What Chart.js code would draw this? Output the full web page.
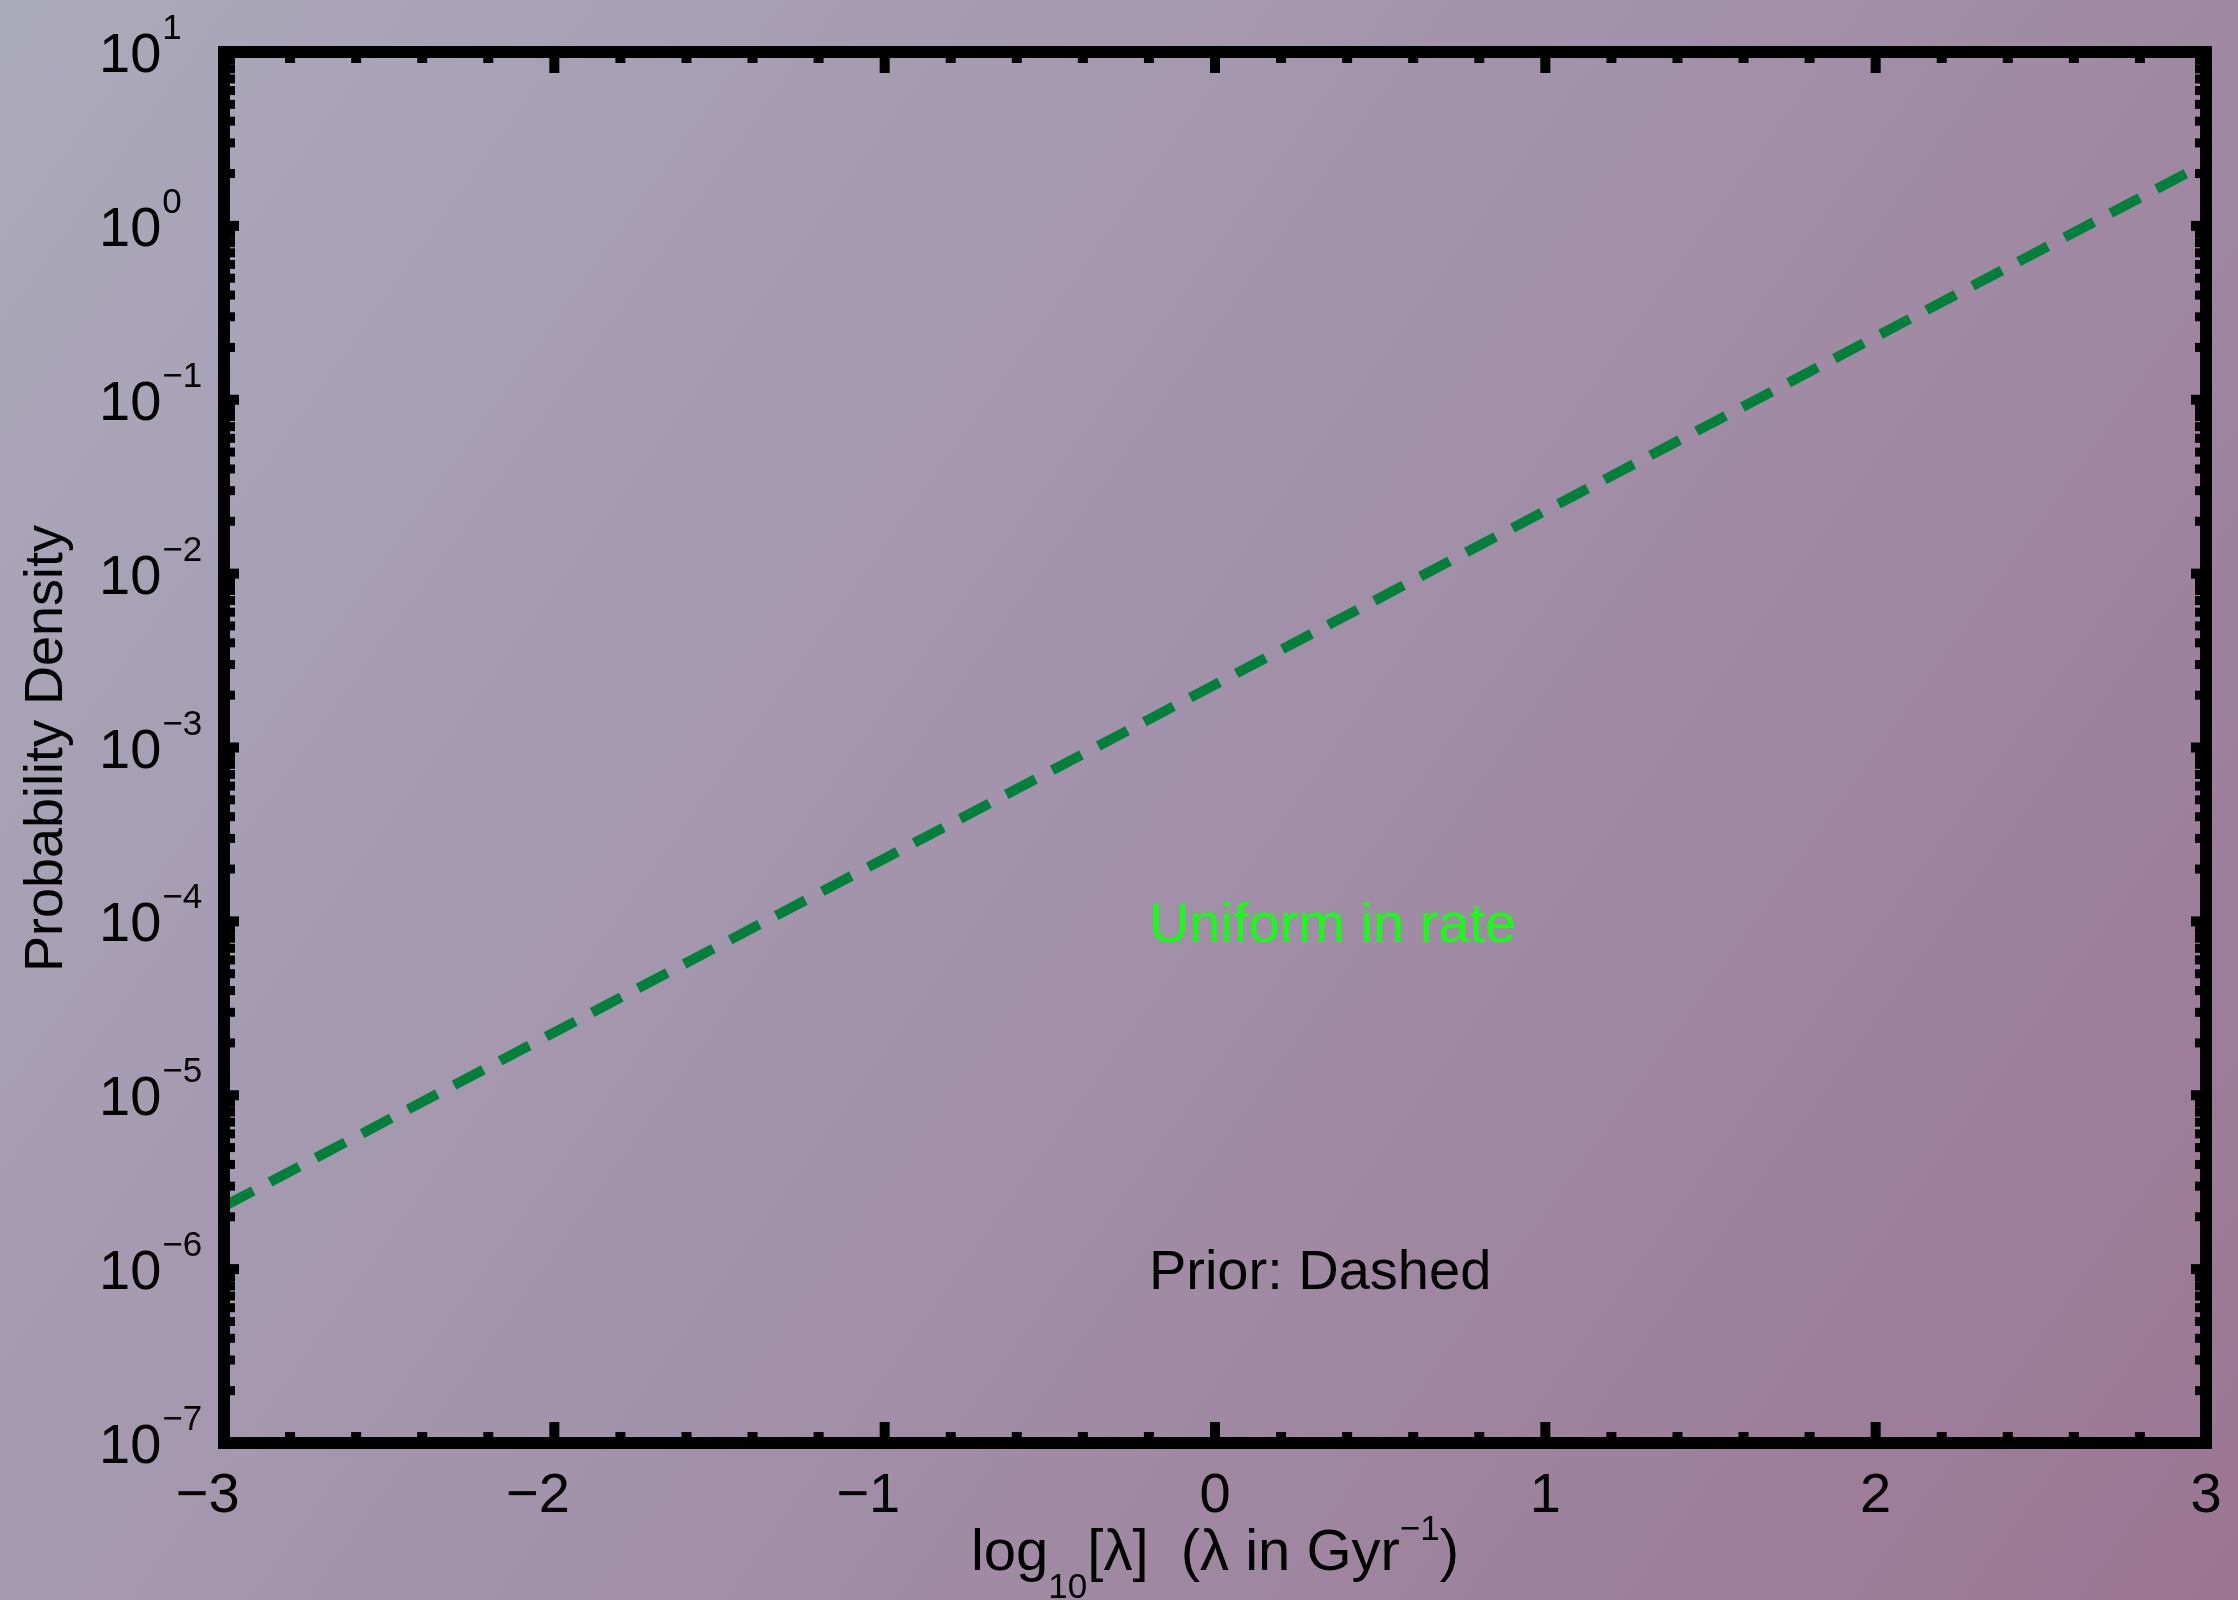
<!DOCTYPE html>
<html>
<head>
<meta charset="utf-8">
<script src="https://cdn.jsdelivr.net/npm/chart.js@4/dist/chart.umd.min.js"></script>
<style>
  html, body { margin: 0; padding: 0; overflow: hidden; background: #a292aa; }
  canvas { display: block; }
</style>
</head>
<body>
<canvas id="chart" width="2238" height="1600"></canvas>
<script>
// Prior density of log10(lambda) for a prior uniform in the rate lambda
const logLambda = [-3, -2, -1, 0, 1, 2, 3];
const priorDensity = [2.3e-6, 2.3e-5, 2.3e-4, 2.3e-3, 2.3e-2, 2.3e-1, 2.3];

// Axis ticks
const xTickValues = [-3, -2, -1, 0, 1, 2, 3];
const xTickLabels = ['−3', '−2', '−1', '0', '1', '2', '3'];
const yExponents = [1, 0, -1, -2, -3, -4, -5, -6, -7];
const yExponentLabels = ['1', '0', '−1', '−2', '−3', '−4', '−5', '−6', '−7'];

// Text
const yTitle = 'Probability Density';
const xTitleParts = [
  { text: 'log', kind: 'normal' },
  { text: '10', kind: 'sub' },
  { text: '[λ]  (λ in Gyr', kind: 'normal' },
  { text: '−1', kind: 'sup' },
  { text: ')', kind: 'normal' }
];
const noteTexts = ['Uniform in rate', 'Prior: Dashed'];

const FONT = '"Liberation Sans", Arial, Helvetica, sans-serif';

const framePlugin = {
  id: 'framePlugin',
  beforeDraw(chart) {
    const { ctx, width, height } = chart;
    const g = ctx.createLinearGradient(0, 0, width, height);
    g.addColorStop(0, '#abaabb');
    g.addColorStop(0.5, '#a291aa');
    g.addColorStop(1, '#9b7693');
    ctx.save();
    ctx.fillStyle = g;
    ctx.fillRect(0, 0, width, height);
    ctx.restore();
  },
  afterDraw(chart) {
    const { ctx, chartArea: a, scales: { x, y } } = chart;
    ctx.save();
    ctx.fillStyle = '#000';

    // box around the plot
    const fw = 12, h = fw / 2;
    ctx.fillRect(a.left - h, a.top - h, a.right - a.left + fw, fw);
    ctx.fillRect(a.left - h, a.bottom - h, a.right - a.left + fw, fw);
    ctx.fillRect(a.left - h, a.top - h, fw, a.bottom - a.top + fw);
    ctx.fillRect(a.right - h, a.top - h, fw, a.bottom - a.top + fw);

    // x ticks, every 0.2, on bottom and top
    const tw = 10;
    for (let i = 1; i < 30; i++) {
      const v = -3 + i * 0.2;
      const px = x.getPixelForValue(v);
      const len = (i % 5 === 0) ? 15 : 5;
      ctx.fillRect(px - tw / 2, a.bottom - h - len, tw, len);
      ctx.fillRect(px - tw / 2, a.top + h, tw, len);
    }

    // y ticks, decades and 2..9 between, on left and right
    const th = 9;
    for (let e = -7; e <= 0; e++) {
      for (let m = 1; m <= 9; m++) {
        if (e === -7 && m === 1) continue;
        const py = y.getPixelForValue(m * Math.pow(10, e));
        const len = m === 1 ? 9 : 5;
        const t = m === 1 ? 10 : th;
        ctx.fillRect(a.left + h, py - t / 2, len, t);
        ctx.fillRect(a.right - h - len, py - t / 2, len, t);
      }
    }

    ctx.textBaseline = 'alphabetic';

    // y tick labels: 10 with exponent
    yExponents.forEach((e, i) => {
      const py = y.getPixelForValue(Math.pow(10, e));
      ctx.font = '56px ' + FONT;
      ctx.textAlign = 'left';
      ctx.fillText('10', 99, py + 20);
      const w = ctx.measureText('10').width;
      ctx.font = '35px ' + FONT;
      ctx.fillText(yExponentLabels[i], 99 + w + 1, py - 13);
    });

    // x tick labels, digits centred on the tick
    ctx.font = '56px ' + FONT;
    ctx.textAlign = 'right';
    xTickValues.forEach((v, i) => {
      const px = x.getPixelForValue(v);
      const digits = xTickLabels[i].replace('−', '');
      const dw = ctx.measureText(digits).width;
      ctx.fillText(xTickLabels[i], px + dw / 2, a.bottom + 69);
    });

    // y title
    ctx.save();
    ctx.translate(62, (a.top + a.bottom) / 2 + 1);
    ctx.rotate(-Math.PI / 2);
    ctx.font = '54px ' + FONT;
    ctx.textAlign = 'center';
    ctx.fillText(yTitle, 0, 0);
    ctx.restore();

    // x title with subscript and superscript
    const sizes = { normal: 58, sub: 35, sup: 35 };
    const shifts = { normal: 0, sub: 28, sup: -30 };
    let total = 0;
    const widths = xTitleParts.map(p => {
      ctx.font = sizes[p.kind] + 'px ' + FONT;
      const w = ctx.measureText(p.text).width;
      total += w;
      return w;
    });
    let cx = (a.left + a.right) / 2 - total / 2;
    const base = a.bottom + 127;
    ctx.textAlign = 'left';
    xTitleParts.forEach((p, i) => {
      ctx.font = sizes[p.kind] + 'px ' + FONT;
      ctx.fillText(p.text, cx, base + shifts[p.kind]);
      cx += widths[i];
    });

    // notes inside the plot
    const notes = chart.options.plugins.framePlugin.notes;
    ctx.font = '56px ' + FONT;
    notes.forEach((n, i) => {
      ctx.fillStyle = n.color;
      ctx.fillText(noteTexts[i], x.getPixelForValue(n.x), y.getPixelForValue(n.y));
    });

    ctx.restore();
  }
};

new Chart(document.getElementById('chart'), {
  type: 'line',
  data: {
    datasets: [{
      label: 'Uniform in rate',
      data: logLambda.map((v, i) => ({ x: v, y: priorDensity[i] })),
      borderColor: '#00803a',
      borderWidth: 10,
      borderDash: [33, 19],
      borderCapStyle: 'butt',
      pointRadius: 0,
      tension: 0,
      fill: false
    }]
  },
  options: {
    responsive: false,
    animation: false,
    devicePixelRatio: 1,
    layout: { padding: { left: 224, top: 52, right: 32, bottom: 157 } },
    scales: {
      x: { type: 'linear', min: -3, max: 3, display: false },
      y: { type: 'logarithmic', min: 1e-7, max: 10, display: false }
    },
    plugins: {
      legend: { display: false },
      tooltip: { enabled: false },
      framePlugin: {
        notes: [
          { x: -0.2, y: 7.65e-5, color: '#14ff14' },
          { x: -0.2, y: 7.65e-7, color: '#000000' }
        ]
      }
    }
  },
  plugins: [framePlugin]
});
</script>
</body>
</html>
